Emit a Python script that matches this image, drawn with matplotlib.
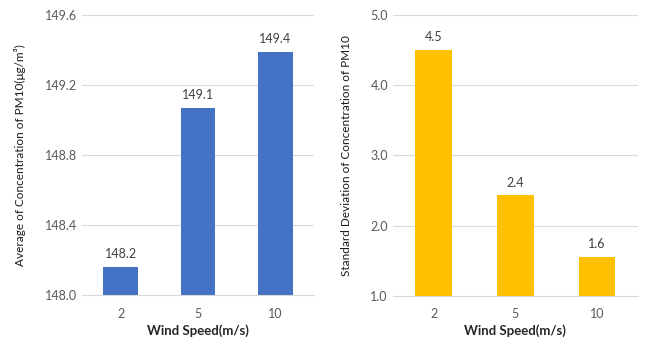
import matplotlib.pyplot as plt

plt.rcParams['font.family'] = ['Lato', 'DejaVu Sans']

wind_speed = ['2', '5', '10']
avg_pm10 = [148.16, 149.07, 149.39]
avg_labels = ['148.2', '149.1', '149.4']
std_pm10 = [4.50, 2.43, 1.55]
std_labels = ['4.5', '2.4', '1.6']

fig = plt.figure(figsize=(6.45, 3.38), dpi=100)
ax1 = fig.add_axes([0.127, 0.127, 0.360, 0.828])
ax2 = fig.add_axes([0.609, 0.125, 0.380, 0.830])

tick_color = '#595959'
grid_color = '#D9D9D9'


def style_axis(ax, bars, labels, ylim, yticks, ylabel, label_x):
    ax.set_ylim(*ylim)
    ax.set_yticks(yticks)
    ax.set_yticklabels([f'{t:.1f}' for t in yticks])
    ax.set_xlim(-0.5, 2.5)
    ax.grid(axis='y', color=grid_color, linewidth=0.8)
    ax.set_axisbelow(True)
    for s in ['top', 'right', 'left']:
        ax.spines[s].set_visible(False)
    ax.spines['bottom'].set_color(grid_color)
    ax.spines['bottom'].set_linewidth(0.8)
    ax.tick_params(length=0, colors=tick_color, labelsize=9)
    ax.tick_params(axis='x', pad=9)
    ax.set_xlabel('Wind Speed(m/s)', fontsize=9.5, fontweight='bold', color='#262626', va='center')
    ax.xaxis.set_label_coords(0.5, -0.126)
    ax.set_ylabel(ylabel, fontsize=8.5, color='#1a1a1a', va='center')
    ax.yaxis.set_label_coords(label_x, 0.5)
    for b, lab in zip(bars, labels):
        ax.annotate(lab, (b.get_x() + b.get_width() / 2, b.get_y() + b.get_height()),
                    xytext=(0, 5), textcoords='offset points', ha='center', va='bottom',
                    fontsize=9, color='#404040')


bars1 = ax1.bar(wind_speed, [v - 148.0 for v in avg_pm10], bottom=148.0, width=0.45, color='#4472C4')
style_axis(ax1, bars1, avg_labels, (148.0, 149.6), [148.0, 148.4, 148.8, 149.2, 149.6],
           'Average of Concentration of PM10(μg/m³)', -0.265)

bars2 = ax2.bar(wind_speed, [v - 1.0 for v in std_pm10], bottom=1.0, width=0.45, color='#FFC000')
style_axis(ax2, bars2, std_labels, (1.0, 5.0), [1.0, 2.0, 3.0, 4.0, 5.0],
           'Standard Deviation of Concentration of PM10', -0.19)

plt.savefig('out.png')
